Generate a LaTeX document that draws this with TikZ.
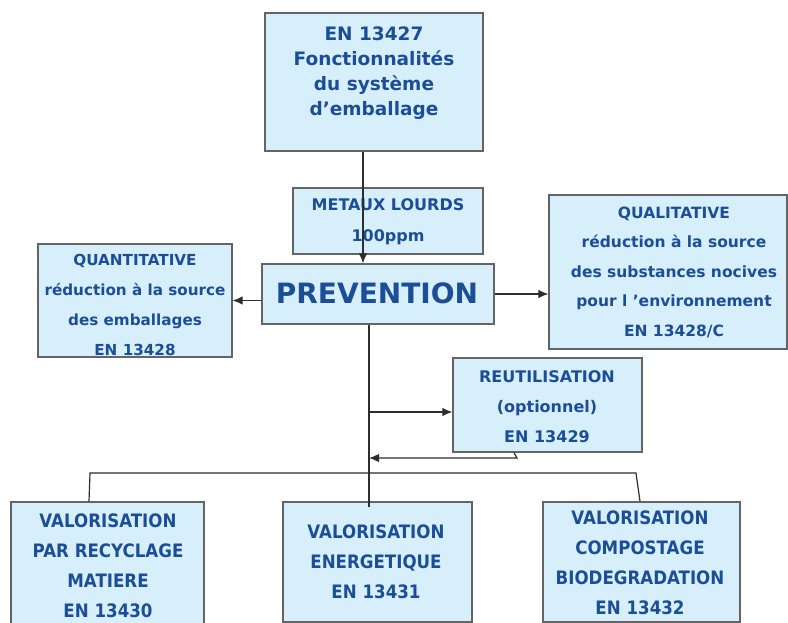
\documentclass[tikz,border=0pt]{standalone}
\usepackage{fontspec}
\setmainfont{DejaVu Sans}
\newfontfamily\condfont[FakeStretch=0.9]{DejaVu Sans}
\usetikzlibrary{arrows.meta}
\definecolor{fillb}{RGB}{215,238,251}
\definecolor{txtb}{RGB}{28,78,152}
\definecolor{bord}{RGB}{100,100,100}
\definecolor{lin}{RGB}{45,45,45}
\tikzset{
  box/.style={draw=bord, line width=1.3pt, fill=fillb, inner sep=0pt},
  txt/.style={text=txtb, align=center, inner sep=0pt},
  arr/.style={draw=lin, line width=1.2pt, -{Latex[length=10pt,width=8.5pt]}},
  conn/.style={draw=lin, line width=1.2pt},
}
\begin{document}
\begin{tikzpicture}[x=1pt,y=-1pt]
\useasboundingbox (0,0) rectangle (788,623);
\fill[white] (0,0) rectangle (788,623);

% boxes
\node[box, minimum width=218pt, minimum height=138pt] (top) at (374,82) {};
\node[txt, font=\bfseries\fontsize{18.5}{25}\selectfont] (topT) at (374,73)
  {EN 13427\\Fonctionnalités\\du système\\d’emballage};

\node[box, minimum width=190pt, minimum height=66pt] (metaux) at (388,221) {};
\node[txt, font=\bfseries\fontsize{16}{31}\selectfont] (metauxT) at (388,222)
  {METAUX LOURDS\\100ppm};

\node[box, minimum width=232pt, minimum height=60pt] (prev) at (378,294) {};
\node[txt, font=\bfseries\fontsize{28}{30}\selectfont] (prevT) at (377,293) {PREVENTION};

\node[box, minimum width=194pt, minimum height=113pt] (left) at (135,300.5) {};
\node[txt, font=\bfseries\fontsize{15.2}{30}\selectfont] (leftT) at (135,305)
  {QUANTITATIVE\\réduction à la source\\des emballages\\EN 13428};

\node[box, minimum width=238pt, minimum height=154pt] (right) at (668,272) {};
\node[txt, font=\bfseries\fontsize{15.5}{29.5}\selectfont] (rightT) at (674,272)
  {QUALITATIVE\\réduction à la source\\des substances nocives\\pour l ’environnement\\EN 13428/C};

\node[box, minimum width=189pt, minimum height=94pt] (reut) at (547.5,405) {};
\node[txt, font=\bfseries\fontsize{16}{30}\selectfont] (reutT) at (547,407)
  {REUTILISATION\\(optionnel)\\EN 13429};

\node[box, minimum width=193pt, minimum height=126pt] (bot1) at (107.5,565) {};
\node[txt, font=\condfont\bfseries\fontsize{18.5}{30}\selectfont] (bot1T) at (108,566)
  {VALORISATION\\PAR RECYCLAGE\\MATIERE\\EN 13430};

\node[box, minimum width=189pt, minimum height=120pt] (bot2) at (377.5,562) {};
\node[txt, font=\condfont\bfseries\fontsize{18.5}{30}\selectfont] (bot2T) at (376,562)
  {VALORISATION\\ENERGETIQUE\\EN 13431};

\node[box, minimum width=197pt, minimum height=120pt] (bot3) at (641.5,562) {};
\node[txt, font=\condfont\bfseries\fontsize{18.5}{30}\selectfont] (bot3T) at (640,563)
  {VALORISATION\\COMPOSTAGE\\BIODEGRADATION\\EN 13432};

% helper coordinates
\coordinate (xa) at (363,0);
\coordinate (xv) at (369,0);
\coordinate (ya) at (0,412);
\coordinate (yr) at (0,458);
\coordinate (xr) at (514,0);
\coordinate (rk) at (517,458);
\coordinate (hl) at (90,473);
\coordinate (hr) at (636,473);
\coordinate (x1) at (89,0);
\coordinate (x3) at (640,0);
\coordinate (ve) at ([yshift=-6pt]bot2.north);

% connectors
\draw[arr] (top.south -| xa) -- (prev.north -| xa);
\draw[arr] (prev.west |- left.east) -- (left.east);
\draw[arr] (prev.east) -- (prev.east -| right.west);
\draw[conn] (prev.south -| xv) -- (ve -| xv);
\draw[arr] (xv |- ya) -- (reut.west |- ya);
\draw[arr] (reut.south -| xr) -- (rk) -- (xv |- yr);
\draw[conn] (bot1.north -| x1) -- (hl) -- (hr) -- (bot3.north -| x3);
\end{tikzpicture}
\end{document}
